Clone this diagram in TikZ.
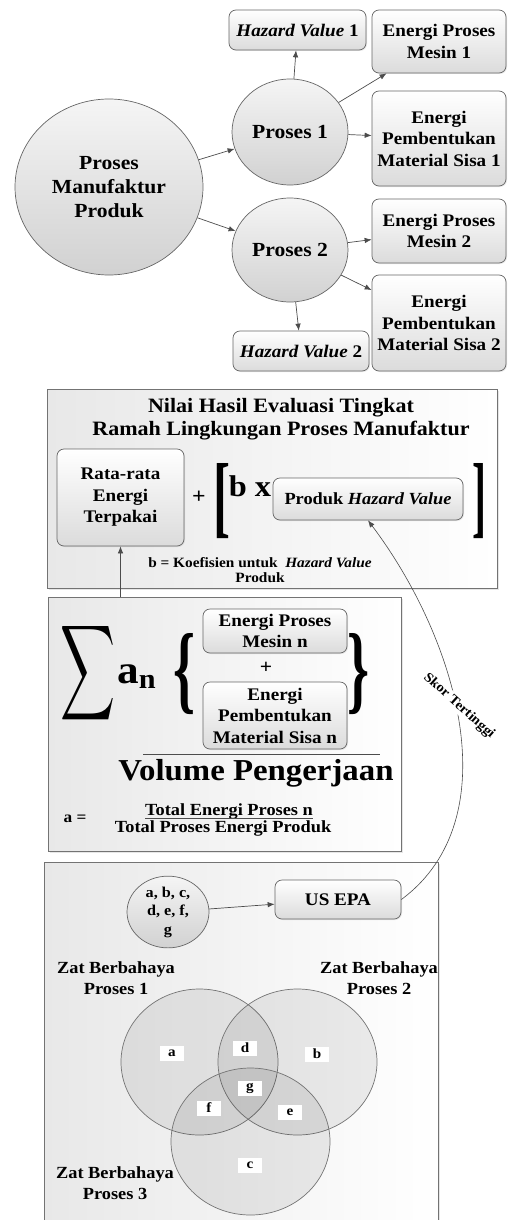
\documentclass[tikz,border=0pt]{standalone}
\usepackage{fontspec}
\setmainfont{Liberation Serif}[FakeStretch=1.08]
\usetikzlibrary{arrows.meta,shapes.geometric,shadows}
\newcommand\myfs[2]{\fontsize{#1}{#2}\selectfont\bfseries}
\begin{document}
\begin{tikzpicture}[x=1pt,y=-1pt,
  arr/.style={draw=black!70, line width=0.7pt, -{Latex[length=7pt,width=5.5pt]}},
  rbox/.style={draw=black!60, line width=0.7pt, rounded corners=7pt, top color=white, bottom color=black!14, align=center, inner sep=0pt, drop shadow={opacity=0.18,shadow xshift=1pt,shadow yshift=-1pt}},
  circ/.style={ellipse, draw=black!60, line width=0.7pt, top color=black!4, bottom color=black!18, align=center, inner sep=0pt},
  panel/.style={draw=black!55, line width=1pt, left color=black!9, right color=white, inner sep=0pt, drop shadow={opacity=0.2,shadow xshift=1.5pt,shadow yshift=-1.5pt}},
  venn/.style={ellipse, draw=black!55, line width=0.7pt, fill=black, fill opacity=0.07, inner sep=0pt},
  vl/.style={fill=white, font=\myfs{14}{14}, minimum width=24pt, minimum height=15pt, inner sep=0pt},
  lbl/.style={align=center, inner sep=0pt},
  boxtxt/.style={font=\myfs{17.7}{21.5}}
]
\useasboundingbox (0,0) rectangle (507,1220);

% ---------- top diagram ----------
\node[circ, minimum width=188pt, minimum height=176pt, font=\myfs{20}{24}] (pmp) at (109,187) {Proses\\Manufaktur\\Produk};
\node[circ, minimum width=116pt, minimum height=106pt, font=\myfs{20}{24}] (p1) at (290,132) {Proses 1};
\node[circ, minimum width=116pt, minimum height=104pt, font=\myfs{20}{24}] (p2) at (290,250) {Proses 2};

\node[rbox, boxtxt, minimum width=137pt, minimum height=40pt] (hv1) at (297.5,30) {\textit{Hazard Value} 1};
\node[rbox, boxtxt, minimum width=134pt, minimum height=63pt] (em1) at (439,41.5) {Energi Proses\\Mesin 1};
\node[rbox, boxtxt, minimum width=134pt, minimum height=95pt] (ep1) at (439,138.5) {Energi\\Pembentukan\\Material Sisa 1};
\node[rbox, boxtxt, minimum width=134pt, minimum height=64pt] (em2) at (439,231) {Energi Proses\\Mesin 2};
\node[rbox, boxtxt, minimum width=134pt, minimum height=96pt] (ep2) at (439,323) {Energi\\Pembentukan\\Material Sisa 2};
\node[rbox, boxtxt, minimum width=136pt, minimum height=40pt] (hv2) at (301,351) {\textit{Hazard Value} 2};

\draw[arr] (pmp) -- (p1);
\draw[arr] (pmp) -- (p2);
\draw[arr] (p1) -- (hv1);
\draw[arr] (p1) -- (em1);
\draw[arr] (p1) -- (ep1);
\draw[arr] (p2) -- (em2);
\draw[arr] (p2) -- (ep2);
\draw[arr] (p2) -- (hv2);

% ---------- panel 1 ----------
\node[panel, minimum width=450pt, minimum height=199pt] (box1) at (272,488.5) {};
\node[lbl, font=\myfs{20.4}{23}] (title) at (281,419) {Nilai Hasil Evaluasi Tingkat\\Ramah Lingkungan Proses Manufaktur};
\node[rbox, boxtxt, minimum width=127pt, minimum height=97pt] (rata) at (120.5,497.5) {Rata-rata\\Energi\\Terpakai};
\node[lbl, font=\myfs{22}{22}] (plus1) at (199,497) {+};
\node[lbl] (lbr) at (222,501.5) {\resizebox{17pt}{63pt}{\bfseries [}};
\node[lbl, font=\myfs{30}{30}, anchor=base] (bx) at (250,496) {b x};
\node[rbox, font=\myfs{17}{20}, minimum width=190pt, minimum height=42pt] (phv) at (368,499) {Produk \textit{Hazard Value}};
\node[lbl] (rbr) at (479,501.5) {\resizebox{14pt}{63pt}{\bfseries ]}};
\node[lbl, font=\myfs{14.2}{15}] (bcoef) at (260,570.5) {b = Koefisien untuk \ \textit{Hazard Value}\\Produk};

% ---------- panel 2 ----------
\node[panel, minimum width=353pt, minimum height=254pt] (box2) at (224.5,724) {};
\node[lbl] (sig) at (88.5,673) {\resizebox{55pt}{70pt}{$\displaystyle\sum$}};
\node[lbl, anchor=base west] (an) at (117,683) {{\myfs{40}{40}a}{\myfs{28}{28}\raisebox{-5pt}{n}}};
\node[lbl] (lcb) at (185,674) {\resizebox{22pt}{68pt}{\bfseries\{}};
\node[rbox, boxtxt, minimum width=144pt, minimum height=44pt] (epm) at (275,631) {Energi Proses\\Mesin n};
\node[lbl, font=\myfs{20}{20}] (plus2) at (266,668) {+};
\node[rbox, boxtxt, minimum width=144pt, minimum height=67pt] (epp) at (275,715.5) {Energi\\Pembentukan\\Material Sisa n};
\node[lbl] (rcb) at (358.5,674) {\resizebox{22pt}{68pt}{\bfseries\}}};
\coordinate (fb1) at (143,754);
\coordinate (fb2) at (380,754);
\draw[black!70, line width=0.8pt] (fb1) -- (fb2);
\node[lbl, font=\myfs{30.4}{31}, anchor=base] (vol) at (256,780) {Volume Pengerjaan};
\node[lbl, font=\myfs{16}{16}] (aeq) at (75,819) {a =};
\node[lbl, font=\myfs{17}{17}, anchor=base] (tot1) at (229,815) {Total Energi Proses n};
\node[lbl, font=\myfs{17}{17}, anchor=base] (tot2) at (223,832) {Total Proses Energi Produk};
\coordinate (tb1) at (145,818);
\coordinate (tb2) at (313,818);
\draw[black!70, line width=0.8pt] (tb1) -- (tb2);

\draw[arr] (rata.south |- box2.north) -- (rata.south);

% ---------- panel 3 ----------
\node[panel, minimum width=394pt, minimum height=366pt] (box3) at (241,1045) {};
\node[circ, minimum width=82pt, minimum height=66pt, font=\myfs{15}{18.5}] (sc) at (168,912) {a, b, c,\\d, e, f,\\g};
\node[rbox, boxtxt, minimum width=126pt, minimum height=39pt] (epa) at (338,899.5) {US EPA};
\draw[arr] (sc) -- (epa);

\node[lbl, font=\myfs{17}{21}] (zb1) at (116,978) {Zat Berbahaya\\Proses 1};
\node[lbl, font=\myfs{17}{21}] (zb2) at (379,978) {Zat Berbahaya\\Proses 2};
\node[lbl, font=\myfs{17}{21}] (zb3) at (115,1183) {Zat Berbahaya\\Proses 3};

\node[venn, minimum width=157pt, minimum height=146pt] (v1) at (199.5,1062) {};
\node[venn, minimum width=159pt, minimum height=146pt] (v2) at (297.5,1062) {};
\node[venn, minimum width=159pt, minimum height=147pt] (v3) at (250.5,1141.5) {};

\node[vl] (la) at (172,1053) {a};
\node[vl] (ld) at (245,1048) {d};
\node[vl] (lb) at (317,1054) {b};
\node[vl] (lg) at (250,1088) {g};
\node[vl] (lf) at (209,1108) {f};
\node[vl] (le) at (290,1112) {e};
\node[vl] (lc) at (250,1165) {c};

% ---------- curve ----------
\draw[arr, line width=0.6pt] (epa.east) .. controls (510,819) and (458,640) .. (phv.south);
\node[rotate=-42, fill=white, inner sep=1pt, font=\myfs{13.5}{14}] (skor) at (459,706) {Skor Tertinggi};
\end{tikzpicture}
\end{document}
